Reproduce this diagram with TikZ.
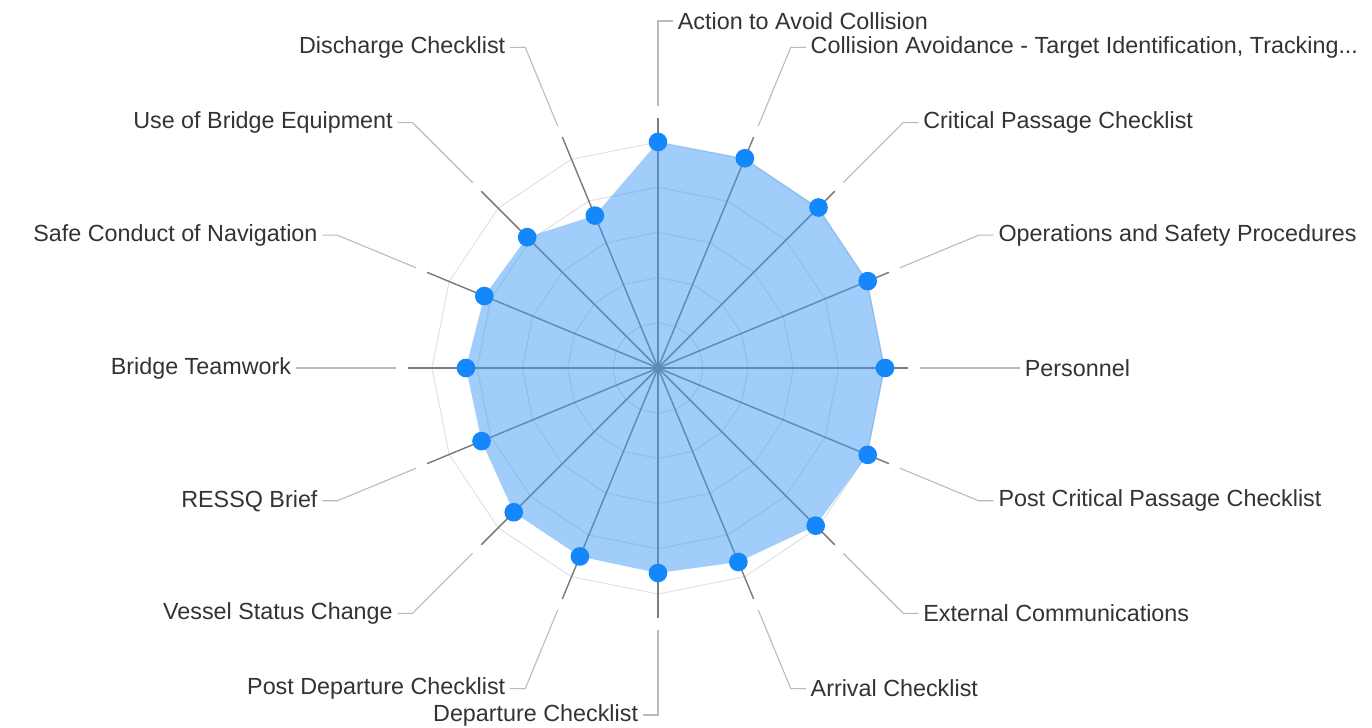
\documentclass[tikz,border=0pt]{standalone}
\usepackage{fontspec}
\setmainfont{Liberation Sans}
\usepackage{xcolor}
\usepackage{tikz}
\usetikzlibrary{calc}
\definecolor{ringgrey}{RGB}{226,226,226}
\definecolor{axisgrey}{RGB}{125,125,125}
\definecolor{leadergrey}{RGB}{185,185,185}
\definecolor{areablue}{RGB}{65,155,245}
\definecolor{dotblue}{RGB}{20,135,250}
\tikzset{datapoint/.style={shape=circle,fill=dotblue,draw=none,inner sep=0,minimum size=14pt}}
\tikzset{axislabel/.style={text=black!80,inner sep=3.5pt,font=\fontsize{17.5}{20}\selectfont}}
\tikzset{spoke/.style={draw=axisgrey,line width=1.1pt}}
\tikzset{leader/.style={draw=leadergrey,line width=0.8pt}}
\tikzset{ring/.style={draw=ringgrey,line width=0.8pt}}

\begin{document}
\begin{tikzpicture}[x=0.75pt,y=0.75pt]
	\useasboundingbox (-658,-360) rectangle (714,368);

	\coordinate (O) at (0,0);

	% grid rings
	\foreach \r in {45.2,90.4,135.6,180.8,226}
		\draw [ring] (0:\r) \foreach \a in {22.5,45,...,337.5} {-- (\a:\r)} -- cycle;

	% spoke ends
	\coordinate (aAct) at (90:250);
	\coordinate (aCol) at (67.5:250);
	\coordinate (aCri) at (45:250);
	\coordinate (aOps) at (22.5:250);
	\coordinate (aPer) at (0:250);
	\coordinate (aPCr) at (-22.5:250);
	\coordinate (aExt) at (-45:250);
	\coordinate (aArr) at (-67.5:250);
	\coordinate (aDep) at (-90:250);
	\coordinate (aPDe) at (-112.5:250);
	\coordinate (aVes) at (-135:250);
	\coordinate (aRes) at (-157.5:250);
	\coordinate (aBri) at (180:250);
	\coordinate (aSaf) at (157.5:250);
	\coordinate (aUse) at (135:250);
	\coordinate (aDis) at (112.5:250);

	\foreach \k in {Act,Col,Cri,Ops,Per,PCr,Ext,Arr,Dep,PDe,Ves,Res,Bri,Saf,Use,Dis}
		\draw [spoke] (O) -- (a\k);

	% values
	\coordinate (vAct) at (90:226);
	\coordinate (vCol) at (67.5:227);
	\coordinate (vCri) at (45:227);
	\coordinate (vOps) at (22.5:227);
	\coordinate (vPer) at (0:227);
	\coordinate (vPCr) at (-22.5:227);
	\coordinate (vExt) at (-45:223);
	\coordinate (vArr) at (-67.5:210);
	\coordinate (vDep) at (-90:205);
	\coordinate (vPDe) at (-112.5:204);
	\coordinate (vVes) at (-135:204);
	\coordinate (vRes) at (-157.5:191);
	\coordinate (vBri) at (180:192);
	\coordinate (vSaf) at (157.5:188);
	\coordinate (vUse) at (135:185);
	\coordinate (vDis) at (112.5:165);

	\fill [areablue,fill opacity=0.5] (vAct) -- (vCol) -- (vCri) -- (vOps) -- (vPer) -- (vPCr) -- (vExt) -- (vArr)
		-- (vDep) -- (vPDe) -- (vVes) -- (vRes) -- (vBri) -- (vSaf) -- (vUse) -- (vDis) -- cycle;

	\foreach \k in {Act,Col,Cri,Ops,Per,PCr,Ext,Arr,Dep,PDe,Ves,Res,Bri,Saf,Use,Dis}
		\node [datapoint] (p\k) at (v\k) {};

	% leaders: start and bend
	\foreach \k/\a in {Act/90,Col/67.5,Cri/45,Ops/22.5,Per/0,PCr/-22.5,Ext/-45,Arr/-67.5,
		Dep/-90,PDe/-112.5,Ves/-135,Res/-157.5,Bri/180,Saf/157.5,Use/135,Dis/112.5}{
		\coordinate (s\k) at (\a:262);
		\coordinate (b\k) at (\a:347);
	}

	% labels, right side
	\node [axislabel,anchor=west] (lAct) at ($(bAct)+(15,0)$) {Action to Avoid Collision};
	\node [axislabel,anchor=west] (lCol) at ($(bCol)+(15,0)$) {Collision Avoidance - Target Identification, Tracking...};
	\node [axislabel,anchor=west] (lCri) at ($(bCri)+(15,0)$) {Critical Passage Checklist};
	\node [axislabel,anchor=west] (lOps) at ($(bOps)+(15,0)$) {Operations and Safety Procedures};
	\node [axislabel,anchor=west] (lPer) at ($(bPer)+(15,0)$) {Personnel};
	\node [axislabel,anchor=west] (lPCr) at ($(bPCr)+(15,0)$) {Post Critical Passage Checklist};
	\node [axislabel,anchor=west] (lExt) at ($(bExt)+(15,0)$) {External Communications};
	\node [axislabel,anchor=west] (lArr) at ($(bArr)+(15,0)$) {Arrival Checklist};

	% labels, left side
	\node [axislabel,anchor=east] (lDep) at ($(bDep)+(-15,0)$) {Departure Checklist};
	\node [axislabel,anchor=east] (lPDe) at ($(bPDe)+(-15,0)$) {Post Departure Checklist};
	\node [axislabel,anchor=east] (lVes) at ($(bVes)+(-15,0)$) {Vessel Status Change};
	\node [axislabel,anchor=east] (lRes) at ($(bRes)+(-15,0)$) {RESSQ Brief};
	\node [axislabel,anchor=east] (lBri) at ($(bBri)+(-15,0)$) {Bridge Teamwork};
	\node [axislabel,anchor=east] (lSaf) at ($(bSaf)+(-15,0)$) {Safe Conduct of Navigation};
	\node [axislabel,anchor=east] (lUse) at ($(bUse)+(-15,0)$) {Use of Bridge Equipment};
	\node [axislabel,anchor=east] (lDis) at ($(bDis)+(-15,0)$) {Discharge Checklist};

	\foreach \k in {Act,Col,Cri,Ops,Per,PCr,Ext,Arr}
		\draw [leader] (s\k) -- (b\k) -- (l\k.west);
	\foreach \k in {Dep,PDe,Ves,Res,Bri,Saf,Use,Dis}
		\draw [leader] (s\k) -- (b\k) -- (l\k.east);

\end{tikzpicture}
\end{document}
